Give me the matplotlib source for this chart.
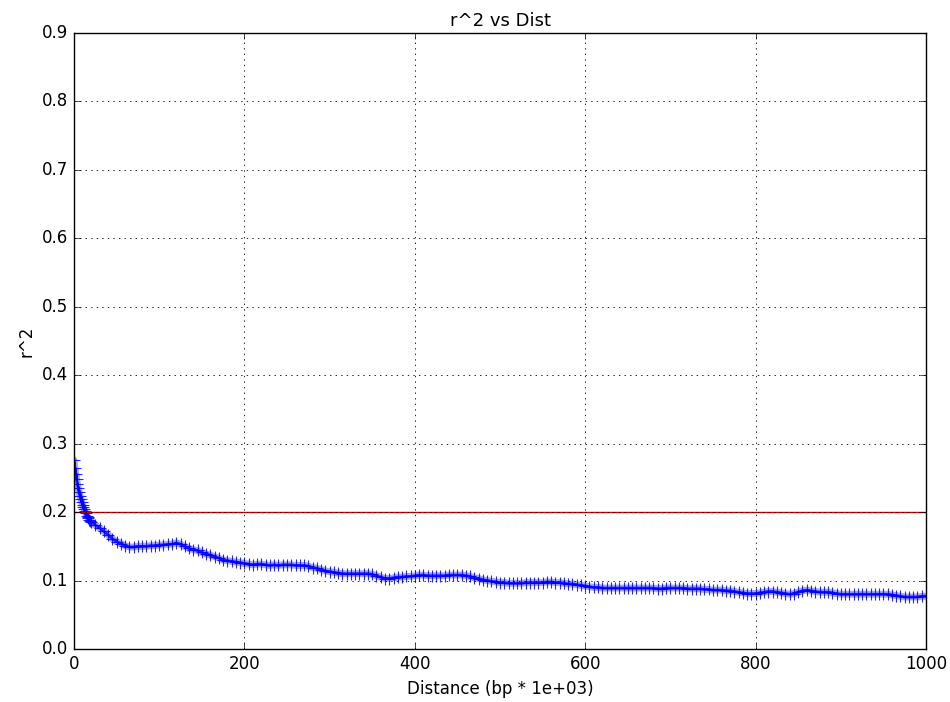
import numpy as np
import matplotlib
matplotlib.use("Agg")
import matplotlib.pyplot as plt

plt.style.use("classic")

# x positions: step 1 for first 21, then step 5
x_head = list(range(0, 21))
x_tail = list(range(25, 1001, 5))
dist = np.array(x_head + x_tail, dtype=float)

r2_head = [0.276, 0.265, 0.256, 0.248, 0.241, 0.235, 0.229, 0.224, 0.219, 0.215,
           0.211, 0.207, 0.204, 0.201, 0.198, 0.195, 0.193, 0.191, 0.189, 0.187, 0.186]
r2_tail = [
    0.181, 0.177, 0.172, 0.167, 0.161, 0.157, 0.154, 0.151, 0.149, 0.149,
    0.150, 0.150, 0.150, 0.151, 0.151, 0.152, 0.152, 0.153, 0.153, 0.155,
    0.153, 0.150, 0.147, 0.145, 0.144, 0.141, 0.139, 0.137, 0.135, 0.133,
    0.130, 0.129, 0.128, 0.127, 0.126, 0.125, 0.124, 0.123, 0.124, 0.124,
    0.123, 0.122, 0.123, 0.122, 0.123, 0.123, 0.123, 0.122, 0.122, 0.122,
    0.121, 0.119, 0.118, 0.116, 0.114, 0.113, 0.112, 0.111, 0.110, 0.110,
    0.110, 0.110, 0.110, 0.110, 0.110, 0.109, 0.107, 0.105, 0.103, 0.103,
    0.104, 0.105, 0.105, 0.106, 0.106, 0.107, 0.108, 0.108, 0.107, 0.107,
    0.107, 0.107, 0.107, 0.108, 0.108, 0.108, 0.108, 0.107, 0.106, 0.104,
    0.103, 0.101, 0.100, 0.099, 0.098, 0.097, 0.097, 0.096, 0.096, 0.096,
    0.096, 0.097, 0.097, 0.097, 0.097, 0.097, 0.098, 0.098, 0.097, 0.097,
    0.096, 0.095, 0.095, 0.094, 0.093, 0.092, 0.091, 0.090, 0.090, 0.089,
    0.089, 0.089, 0.089, 0.089, 0.089, 0.089, 0.089, 0.089, 0.089, 0.089,
    0.089, 0.089, 0.088, 0.088, 0.089, 0.089, 0.089, 0.089, 0.089, 0.088,
    0.088, 0.088, 0.088, 0.087, 0.087, 0.086, 0.086, 0.086, 0.085, 0.085,
    0.084, 0.083, 0.082, 0.081, 0.081, 0.081, 0.082, 0.083, 0.084, 0.084,
    0.083, 0.082, 0.081, 0.080, 0.081, 0.083, 0.085, 0.086, 0.085, 0.084,
    0.083, 0.083, 0.083, 0.082, 0.081, 0.080, 0.080, 0.080, 0.080, 0.080,
    0.080, 0.080, 0.080, 0.080, 0.080, 0.080, 0.080, 0.079, 0.078, 0.077,
    0.076, 0.076, 0.076, 0.076, 0.077, 0.077,
]
r2 = np.array(r2_head + r2_tail)

threshold = 0.2
title = "r^2 vs Dist"
xlabel = "Distance (bp * 1e+03)"
ylabel = "r^2"

fig = plt.figure(figsize=(9.5, 7.02), dpi=100, facecolor="white")
ax = fig.add_axes([74 / 950, 1 - 649 / 702, (926 - 74) / 950, (649 - 33) / 702])
ax.set_facecolor("white")

ax.plot(dist, r2, color="b", linestyle="-", linewidth=5, alpha=0.35,
        solid_capstyle="round")
ax.plot(dist, r2, color="b", marker="+", linestyle="-", linewidth=2,
        markersize=8, markeredgewidth=0.8, alpha=0.85)
ax.axhline(threshold, color="#cc0000", linewidth=1)

ax.set_xlim(0, 1000)
ax.set_ylim(0, 0.9)
ax.set_xticks([0, 200, 400, 600, 800, 1000])
ax.set_yticks(np.arange(0, 0.91, 0.1))
ax.grid(True, linestyle=":", color="black", linewidth=0.6)
ax.set_title(title, fontsize=13)
ax.set_xlabel(xlabel, fontsize=12)
ax.set_ylabel(ylabel, fontsize=12)
ax.tick_params(labelsize=12)

fig.savefig("out.png", dpi=100, facecolor="white")
